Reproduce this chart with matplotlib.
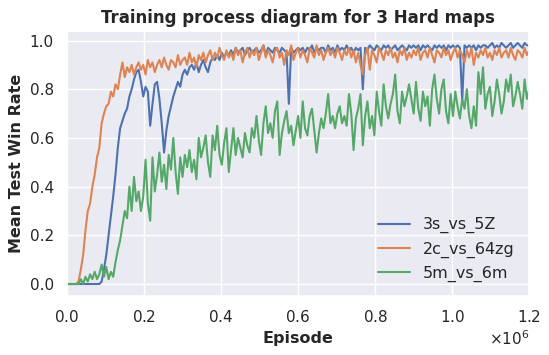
import numpy as np
import matplotlib
matplotlib.use("Agg")
import matplotlib.pyplot as plt
import seaborn as sns
from matplotlib.ticker import ScalarFormatter

sns.set_theme(style="darkgrid")
plt.rcParams['font.family'] = ['DejaVu Sans']

# x grid: episodes (one evaluation every 6000 episodes)
episodes = np.arange(201) * 6000

s_3s_vs_5z = [
    0, 0, 0, 0, 0, 0, 0, 0, 0, 0,
    0, 0, 0, 0, 0.0, 0.01, 0.06, 0.12, 0.20, 0.28,
    0.36, 0.45, 0.56, 0.64, 0.67, 0.70, 0.72, 0.77, 0.80, 0.84,
    0.87, 0.88, 0.83, 0.77, 0.81, 0.79, 0.65, 0.74, 0.82, 0.83,
    0.76, 0.66, 0.54, 0.63, 0.69, 0.73, 0.77, 0.80, 0.83, 0.81,
    0.86, 0.88, 0.86, 0.89, 0.90, 0.88, 0.91, 0.87, 0.90, 0.92,
    0.89, 0.87, 0.91, 0.93, 0.92, 0.94, 0.92, 0.95, 0.93, 0.95,
    0.94, 0.96, 0.94, 0.97, 0.95, 0.96, 0.97, 0.94, 0.96, 0.97,
    0.95, 0.96, 0.97, 0.95, 0.96, 0.98, 0.94, 0.97, 0.96, 0.95,
    0.97, 0.96, 0.95, 0.97, 0.96, 0.95, 0.74, 0.97, 0.95, 0.96,
    0.97, 0.96, 0.97, 0.95, 0.97, 0.96, 0.98, 0.95, 0.97, 0.96,
    0.97, 0.97, 0.95, 0.98, 0.96, 0.97, 0.95, 0.98, 0.96, 0.97,
    0.96, 0.98, 0.96, 0.97, 0.95, 0.97, 0.96, 0.97, 0.80, 0.97,
    0.96, 0.98, 0.97, 0.96, 0.98, 0.97, 0.96, 0.98, 0.97, 0.98,
    0.96, 0.97, 0.98, 0.96, 0.97, 0.98, 0.97, 0.96, 0.98, 0.97,
    0.98, 0.97, 0.98, 0.96, 0.98, 0.97, 0.98, 0.97, 0.96, 0.98,
    0.97, 0.98, 0.97, 0.98, 0.96, 0.98, 0.97, 0.98, 0.97, 0.98,
    0.97, 0.75, 0.98, 0.97, 0.98, 0.97, 0.98, 0.96, 0.98, 0.97,
    0.98, 0.98, 0.97, 0.98, 0.99, 0.97, 0.98, 0.97, 0.99, 0.98,
    0.97, 0.98, 0.99, 0.97, 0.98, 0.99, 0.98, 0.97, 0.99, 0.98,
    0.98,
]

s_2c_vs_64zg = [
    0, 0, 0, 0, 0, 0.01, 0.06, 0.12, 0.22, 0.30,
    0.33, 0.40, 0.45, 0.52, 0.56, 0.66, 0.70, 0.73, 0.74, 0.79,
    0.77, 0.82, 0.80, 0.86, 0.91, 0.85, 0.89, 0.87, 0.90, 0.86,
    0.89, 0.91, 0.88, 0.90, 0.86, 0.92, 0.89, 0.91, 0.87, 0.90,
    0.92, 0.89, 0.93, 0.90, 0.88, 0.92, 0.91, 0.89, 0.94, 0.90,
    0.92, 0.93, 0.90, 0.95, 0.91, 0.93, 0.89, 0.94, 0.92, 0.95,
    0.91, 0.94, 0.96, 0.92, 0.95, 0.93, 0.97, 0.94, 0.92, 0.96,
    0.93, 0.95, 0.92, 0.97, 0.94, 0.96, 0.91, 0.95, 0.97, 0.93,
    0.96, 0.94, 0.97, 0.92, 0.95, 0.98, 0.93, 0.96, 0.94, 0.91,
    0.96, 0.97, 0.93, 0.95, 0.90, 0.96, 0.94, 0.98, 0.92, 0.95,
    0.97, 0.93, 0.96, 0.94, 0.91, 0.97, 0.95, 0.93, 0.98, 0.94,
    0.96, 0.92, 0.95, 0.97, 0.94, 0.96, 0.93, 0.97, 0.95, 0.92,
    0.96, 0.94, 0.97, 0.93, 0.96, 0.91, 0.95, 0.90, 0.86, 0.94,
    0.97, 0.88, 0.96, 0.94, 0.91, 0.97, 0.95, 0.92, 0.96, 0.94,
    0.97, 0.93, 0.95, 0.91, 0.96, 0.94, 0.97, 0.92, 0.95, 0.93,
    0.96, 0.94, 0.97, 0.92, 0.95, 0.96, 0.93, 0.97, 0.94, 0.91,
    0.96, 0.95, 0.93, 0.97, 0.94, 0.96, 0.92, 0.95, 0.97, 0.93,
    0.96, 0.94, 0.91, 0.96, 0.93, 0.97, 0.90, 0.95, 0.93, 0.96,
    0.94, 0.97, 0.93, 0.95, 0.92, 0.96, 0.94, 0.97, 0.93, 0.95,
    0.96, 0.93, 0.97, 0.94, 0.92, 0.96, 0.95, 0.93, 0.97, 0.94,
    0.96,
]

s_5m_vs_6m = [
    0, 0, 0, 0, 0, 0.0, 0.02, 0.0, 0.03, 0.01,
    0.04, 0.02, 0.05, 0.02, 0.04, 0.08, 0.03, 0.07, 0.02, 0.05,
    0.03, 0.09, 0.14, 0.18, 0.24, 0.30, 0.27, 0.40, 0.30, 0.44,
    0.34, 0.38, 0.30, 0.36, 0.51, 0.33, 0.26, 0.52, 0.38, 0.45,
    0.54, 0.42, 0.49, 0.39, 0.53, 0.47, 0.60, 0.46, 0.37, 0.52,
    0.44, 0.53, 0.48, 0.55, 0.46, 0.51, 0.43, 0.60, 0.52, 0.56,
    0.61, 0.50, 0.44, 0.61, 0.55, 0.65, 0.53, 0.49, 0.58, 0.64,
    0.46, 0.55, 0.64, 0.53, 0.60, 0.56, 0.52, 0.62, 0.57, 0.54,
    0.64, 0.60, 0.69, 0.59, 0.53, 0.66, 0.73, 0.62, 0.66, 0.60,
    0.71, 0.75, 0.53, 0.62, 0.67, 0.71, 0.62, 0.65, 0.57, 0.63,
    0.69, 0.60, 0.75, 0.64, 0.61, 0.69, 0.72, 0.63, 0.54, 0.62,
    0.68, 0.64, 0.70, 0.78, 0.66, 0.69, 0.64, 0.70, 0.73, 0.66,
    0.69, 0.65, 0.78, 0.70, 0.55, 0.68, 0.72, 0.78, 0.57, 0.69,
    0.75, 0.64, 0.69, 0.61, 0.79, 0.71, 0.65, 0.82, 0.73, 0.68,
    0.74, 0.78, 0.86, 0.71, 0.66, 0.79, 0.73, 0.77, 0.82, 0.76,
    0.70, 0.83, 0.72, 0.67, 0.79, 0.73, 0.77, 0.65, 0.80, 0.86,
    0.76, 0.70, 0.80, 0.84, 0.71, 0.66, 0.78, 0.69, 0.79, 0.73,
    0.68, 0.76, 0.72, 0.80, 0.69, 0.64, 0.73, 0.65, 0.87, 0.78,
    0.89, 0.72, 0.78, 0.81, 0.69, 0.75, 0.84, 0.78, 0.70, 0.75,
    0.84, 0.79, 0.86, 0.73, 0.77, 0.83, 0.78, 0.72, 0.84, 0.76,
    0.80,
]

series_names = ["3s_vs_5Z", "2c_vs_64zg", "5m_vs_6m"]
series_values = [s_3s_vs_5z, s_2c_vs_64zg, s_5m_vs_6m]
colors = ["#4C72B0", "#DD8452", "#55A868"]

fig = plt.figure(figsize=(5.49, 3.55), dpi=100)
ax = fig.add_axes([0.122, 0.166, 0.842, 0.747])

for name, vals, c in zip(series_names, series_values, colors):
    ax.plot(episodes, vals, color=c, lw=1.5, label=name)

ax.set_xlim(0, 1.2e6)
ax.set_xticks(np.arange(0, 1.21e6, 0.2e6))
fmt = ScalarFormatter(useMathText=True)
fmt.set_powerlimits((0, 0))
ax.xaxis.set_major_formatter(fmt)
ax.tick_params(labelsize=11)
ax.xaxis.get_offset_text().set_fontsize(11)

ax.set_title("Training process diagram for 3 Hard maps", fontsize=12, fontweight="bold")
ax.set_xlabel("Episode", fontsize=11.5, fontweight="bold")
ax.set_ylabel("Mean Test Win Rate", fontsize=11.5, fontweight="bold")
ax.legend(loc="lower right", frameon=False, fontsize=11.5)

fig.savefig("out.png", dpi=100)
